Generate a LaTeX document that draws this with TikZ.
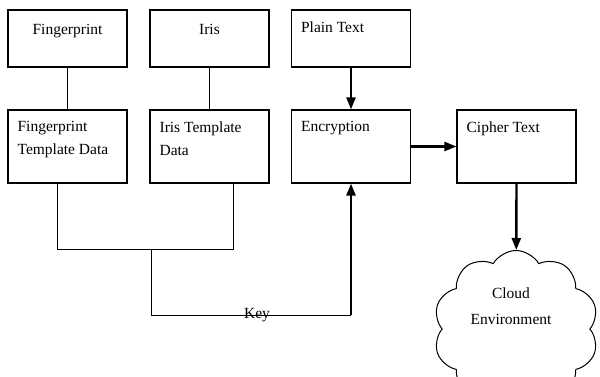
\documentclass[tikz,border=0pt]{standalone}
\usepackage{fontspec}
\setmainfont{Liberation Serif}
\usetikzlibrary{arrows.meta,shapes.symbols}

\begin{document}
\begin{tikzpicture}[x=1pt, y=-1pt,
  font=\fontsize{15.5}{23}\selectfont,
  box/.style={draw, line width=1.2pt, inner sep=0pt, minimum width=119pt, minimum height=#1},
  tl/.style={label={[anchor=north west, align=left, inner sep=0pt, xshift=10pt, yshift=-12pt]north west:#1}},
  tc/.style={label={[anchor=north, inner sep=0pt, yshift=-15pt]north:#1}},
  ln/.style={line width=1pt},
  arr/.style={line width=2.4pt, -{Triangle[length=12pt, width=9pt]}}
]
\useasboundingbox (0,0) rectangle (600,377);
% biometric key and encryption flow
\node[box=57pt, tc=Fingerprint] (fp) at (67.5,38.5) {};
\node[box=57pt, tc=Iris] (iris) at (209.5,38.5) {};
\node[box=57pt, tl={Plain Text}] (pt) at (351,38.5) {};
\node[box=73pt, tl={Fingerprint\\Template Data}] (ftd) at (67.5,146.5) {};
\node[box=73pt, tl={Iris Template\\Data}] (itd) at (209.5,146.5) {};
\node[box=73pt, tl=Encryption] (enc) at (351,146.5) {};
\node[box=73pt, tl={Cipher Text}] (ct) at (516.5,146.5) {};
\node[cloud, draw, line width=1pt, cloud puffs=10, cloud puff arc=120, aspect=1,
  shape border rotate=18, minimum width=165pt, minimum height=157pt, inner sep=0pt] (cloud) at (516,329) {};
\node[align=center, inner sep=0pt, font=\fontsize{15.5}{26}\selectfont] (cloudtxt) at (511,306) {Cloud\\Environment};
\coordinate (fj) at (57,249);
\coordinate (ij) at (233,249);
\coordinate (kj) at (151,249);
\coordinate (kc) at (351,315);
\draw[ln] (fp) -- (ftd);
\draw[ln] (iris) -- (itd);
\draw[ln] (ftd.south -| fj) -- (fj) -- (ij) -- (ij |- itd.south);
\draw[ln] (kj) |- node[pos=0.765, anchor=base, inner sep=0pt, yshift=-3pt] {Key} (kc);
\draw[arr] (kc) -- (enc.south);
\draw[arr] (pt) -- (enc);
\draw[arr] (enc) -- (ct);
\draw[arr] (ct.south) -- (cloud);
\end{tikzpicture}
\end{document}
